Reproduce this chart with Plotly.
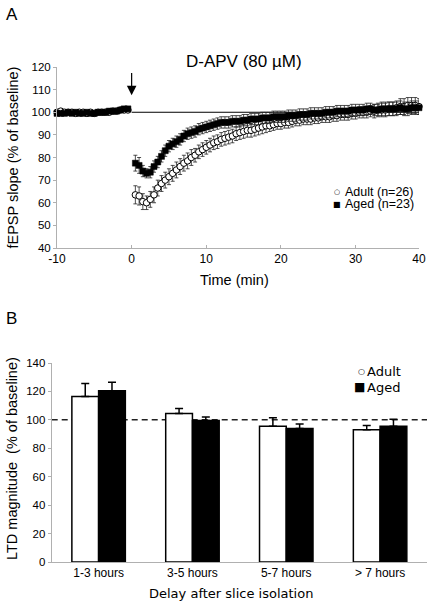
import numpy as np
import plotly.graph_objects as go

# ---------------- Panel A data ----------------
adult_pre = [100, 100.5, 100, 100, 100, 99.5, 100, 100, 99.5, 100,
             99.5, 100, 100, 100, 100, 100.5, 100.5, 101, 101, 101]
aged_pre = [99.5, 99.5, 99.5, 100, 99.5, 100, 99.5, 99.5, 100, 99.5,
            99.5, 100, 100, 100, 100.5, 100.5, 100.5, 101, 101.5, 101.5]
adult_post = [63.5, 63, 60.5, 60, 61.5, 63.5, 66.5, 68.5, 70, 71.5,
              73, 74.5, 76, 77.5, 78.5, 80, 81, 82.5, 83.5, 84.5,
              85.5, 86.5, 87, 88, 88.5, 89, 89.5, 90.5, 91, 91.5,
              92, 92, 92.5, 93, 93.5, 94, 94, 94.5, 95, 95,
              95.5, 95.5, 96, 96.5, 96.5, 97, 97, 97, 97.5, 97.5,
              98, 98, 98, 98.5, 98.5, 99, 99, 99, 99.5, 99.5,
              100, 100, 100, 100.5, 100.5, 101, 101, 101, 101.5, 101.5,
              102, 102.5, 102.5, 103, 103, 103, 102.5]
aged_post = [77.5, 76.5, 74, 73, 73.5, 76, 78, 80.5, 83, 85,
             86, 87, 88, 89.5, 90.5, 91, 91.5, 92.5, 93, 93.5,
             94, 94.5, 95, 95.5, 95.5, 95.5, 96, 96, 96, 96.5,
             96.5, 97, 97, 97, 97.5, 97.5, 97.5, 98, 98, 98,
             98, 98.5, 98.5, 98.5, 99, 99, 99, 99.5, 99.5, 99.5,
             99.5, 100, 100, 100, 100.5, 100.5, 100.5, 100.5, 101, 101,
             101, 101, 101.5, 101.5, 101, 101, 101.5, 101.5, 101.5, 101.5,
             101.5, 102, 101.5, 101.5, 102, 102, 102]
adult_pre_err = [1.0, 1.0, 0.8, 0.8, 1.0, 0.8, 0.8, 1.0, 0.8, 0.8,
                 0.8, 1.0, 0.8, 0.8, 0.8, 1.0, 0.8, 1.0, 1.0, 1.0]
aged_pre_err = [1.0, 0.8, 0.8, 1.0, 0.8, 0.8, 1.0, 0.8, 0.8, 0.8,
                1.0, 0.8, 0.8, 0.8, 1.0, 0.8, 0.8, 1.0, 1.0, 1.0]
adult_post_err = [4, 4, 3.5, 3, 3.5, 3.5, 3.5, 3.5, 3.5, 3.5,
                  3.5, 3.5, 3.5, 3.5, 3.5, 3.5, 3, 3, 3, 3,
                  3, 3, 3, 3, 3, 3, 3, 3, 3, 3,
                  3, 3, 3, 3, 3, 3, 2.5, 2.5, 2.5, 2.5,
                  2.5, 2.5, 2.5, 2.5, 2.5, 2.5, 2.5, 2.5, 2.5, 2.5,
                  2.5, 2.5, 2.5, 2.5, 2.5, 2.5, 2.5, 2.5, 2.5, 2.5,
                  2.5, 2.5, 2.5, 2.5, 3, 3, 3, 3, 3, 3,
                  3, 3.5, 3.5, 3.5, 3.5, 3.5, 3.5]
aged_post_err = [3.5, 3.5, 2.5, 2, 2.5, 2.5, 2.5, 2.5, 2.5, 2.5,
                 2.5, 2.5, 2.5, 2.5, 2.5, 2.5, 2.5, 2.5, 2.5, 2.5,
                 2.5, 2.5, 2.5, 2.5, 2.5, 2.5, 2.5, 2.5, 2.5, 2.5,
                 2.5, 2.5, 2.5, 2.5, 2.5, 2.5, 2.5, 2.5, 2.5, 2.5,
                 2.5, 2.5, 2.5, 2.5, 2.5, 2.5, 2.5, 2.5, 2.5, 2.5,
                 2.5, 2.5, 2.5, 2.5, 2.5, 2.5, 2.5, 2.5, 2.5, 2.5,
                 2.5, 2.5, 2.5, 2.5, 2.5, 2.5, 3, 3, 3, 3,
                 3, 3, 3, 3, 3, 3, 3]

a_xticks = [-10, 0, 10, 20, 30, 38.5]
a_xticktext = ["-10", "0", "10", "20", "30", "40"]

# ---------------- Panel B data ----------------
delay_cats = ["1-3 hours", "3-5 hours", "5-7 hours", "> 7 hours"]
adult_ltd = [116.5, 104.5, 95.5, 93]
adult_ltd_err = [9, 3.5, 6, 3]
aged_ltd = [120.5, 99.5, 94, 95.5]
aged_ltd_err = [6, 2.5, 3, 5]

t_pre = np.arange(-10, 0, 0.5)
t_post = 0.5 + 0.5 * np.arange(len(adult_post))
t_all = np.concatenate([t_pre, t_post])

FONT = "Arial, Liberation Sans, sans-serif"
VFONT = "Verdana, DejaVu Sans, sans-serif"
AX = "#b0b0b0"

fig = go.Figure()

fig.add_trace(go.Scatter(
    x=t_all, y=adult_pre + adult_post, mode="markers", name="Adult (n=26)",
    marker=dict(symbol="circle", size=6.5, color="white", line=dict(color="black", width=1)),
    error_y=dict(type="data", array=adult_pre_err + adult_post_err, color="#222",
                 thickness=0.8, width=2),
    xaxis="x", yaxis="y", cliponaxis=False, showlegend=False))
fig.add_trace(go.Scatter(
    x=t_all, y=aged_pre + aged_post, mode="markers", name="Aged (n=23)",
    marker=dict(symbol="square", size=6, color="black", line=dict(color="black", width=0.5)),
    error_y=dict(type="data", array=aged_pre_err + aged_post_err, color="#222",
                 thickness=0.8, width=2),
    xaxis="x", yaxis="y", cliponaxis=False, showlegend=False))

fig.add_trace(go.Bar(
    x=delay_cats, y=adult_ltd, name="Adult",
    marker=dict(color="white", line=dict(color="black", width=1.5)),
    error_y=dict(type="data", array=adult_ltd_err, arrayminus=[0] * 4, symmetric=False,
                 color="black", thickness=1.5, width=4),
    xaxis="x2", yaxis="y2", showlegend=False))
fig.add_trace(go.Bar(
    x=delay_cats, y=aged_ltd, name="Aged",
    marker=dict(color="black", line=dict(color="black", width=1.5)),
    error_y=dict(type="data", array=aged_ltd_err, arrayminus=[0] * 4, symmetric=False,
                 color="black", thickness=1.5, width=4),
    xaxis="x2", yaxis="y2", showlegend=False))

W, H = 431, 607
def px(x):
    return x / W
def py(y):
    return 1 - y / H

fig.update_layout(
    width=W, height=H, margin=dict(l=0, r=0, t=0, b=0, autoexpand=False),
    paper_bgcolor="white", plot_bgcolor="white",
    font=dict(family=FONT, size=12, color="black"),
    barmode="group", bargap=0.43, bargroupgap=0,
    xaxis=dict(domain=[px(57), px(419)], anchor="y", range=[-10, 38.5],
               tickvals=a_xticks, ticktext=a_xticktext, showline=True, linecolor=AX,
               linewidth=1, ticks="inside", ticklen=3, tickcolor=AX, showgrid=False,
               zeroline=False, tickfont=dict(size=12), automargin=False),
    yaxis=dict(domain=[py(248), py(67)], anchor="x", range=[40, 120], dtick=10,
               showline=True, linecolor=AX, linewidth=1, ticks="outside", ticklen=3,
               tickcolor=AX, showgrid=False, zeroline=False, tickfont=dict(size=11.5),
               automargin=False),
    xaxis2=dict(domain=[px(51.7), px(427)], anchor="y2", showline=True, linecolor=AX,
                linewidth=1, ticks="", showgrid=False, zeroline=False,
                tickfont=dict(size=12), automargin=False),
    yaxis2=dict(domain=[py(562), py(363)], anchor="x2", range=[0, 140], dtick=20,
                showline=True, linecolor=AX, linewidth=1, ticks="outside", ticklen=3,
                tickcolor=AX, showgrid=False, zeroline=False, tickfont=dict(size=11.5),
                automargin=False),
)

fig.add_shape(type="line", xref="x", yref="y", x0=0, x1=38.5, y0=100, y1=100,
              line=dict(color="black", width=1), layer="below")
fig.add_shape(type="line", xref="x2 domain", yref="y2", x0=0, x1=1, y0=100, y1=100,
              line=dict(color="#222", width=1.5, dash="6px,4px"), layer="below")

ann = []
ann.append(dict(x=0, y=107.5, ax=0, ay=118, xref="x", yref="y", axref="x", ayref="y",
                showarrow=True, arrowhead=2, arrowsize=1.6, arrowwidth=1.2,
                arrowcolor="black", text=""))
ann.append(dict(x=px(244), y=py(61), xref="paper", yref="paper", text="D-APV (80 µM)",
                showarrow=False, font=dict(size=17), xanchor="center", yanchor="middle"))
ann.append(dict(x=px(4), y=py(14), xref="paper", yref="paper", text="A",
                showarrow=False, font=dict(size=17), xanchor="left", yanchor="middle"))
ann.append(dict(x=px(4), y=py(318), xref="paper", yref="paper", text="B",
                showarrow=False, font=dict(size=17), xanchor="left", yanchor="middle"))
ann.append(dict(x=px(12), y=py(157.5), xref="paper", yref="paper",
                text="fEPSP slope (% of baseline)", textangle=-90,
                showarrow=False, font=dict(size=14.5), xanchor="center", yanchor="middle"))
ann.append(dict(x=px(235), y=py(280), xref="paper", yref="paper", text="Time (min)",
                showarrow=False, font=dict(size=14.5), xanchor="center", yanchor="middle"))
ann.append(dict(x=px(12), y=py(459), xref="paper", yref="paper",
                text="LTD magnitude  (% of baseline)", textangle=-90,
                showarrow=False, font=dict(size=14.5), xanchor="center", yanchor="middle"))
ann.append(dict(x=px(231), y=py(593), xref="paper", yref="paper",
                text="Delay after slice isolation",
                showarrow=False, font=dict(size=13, family=VFONT), xanchor="center",
                yanchor="middle"))
# legend A
for name, glyph, gsize, yy in [("Adult (n=26)", "○", 7, 191.5), ("Aged (n=23)", "■", 8, 204)]:
    ann.append(dict(x=px(337), y=py(yy), xref="paper", yref="paper", text=glyph,
                    showarrow=False, font=dict(size=gsize, family=VFONT, color="black"),
                    xanchor="center", yanchor="middle", borderpad=0))
    ann.append(dict(x=px(344), y=py(yy), xref="paper", yref="paper", text=name,
                    showarrow=False, font=dict(size=12.5), xanchor="left",
                    yanchor="middle", borderpad=0))
# legend B
for name, glyph, gsize, yy, gx in [("Adult", "○", 8, 371, 361), ("Aged", "■", 12, 387, 359.5)]:
    ann.append(dict(x=px(gx), y=py(yy), xref="paper", yref="paper", text=glyph,
                    showarrow=False, font=dict(size=gsize, family=VFONT, color="black"),
                    xanchor="center", yanchor="middle", borderpad=0))
    ann.append(dict(x=px(366), y=py(yy), xref="paper", yref="paper", text=name,
                    showarrow=False, font=dict(size=13, family=VFONT), xanchor="left",
                    yanchor="middle", borderpad=0))
fig.update_layout(annotations=ann)

fig.write_html("out.html", config={"displayModeBar": False, "staticPlot": True},
               post_script="document.body.style.margin='0';document.body.style.overflow='hidden';")
